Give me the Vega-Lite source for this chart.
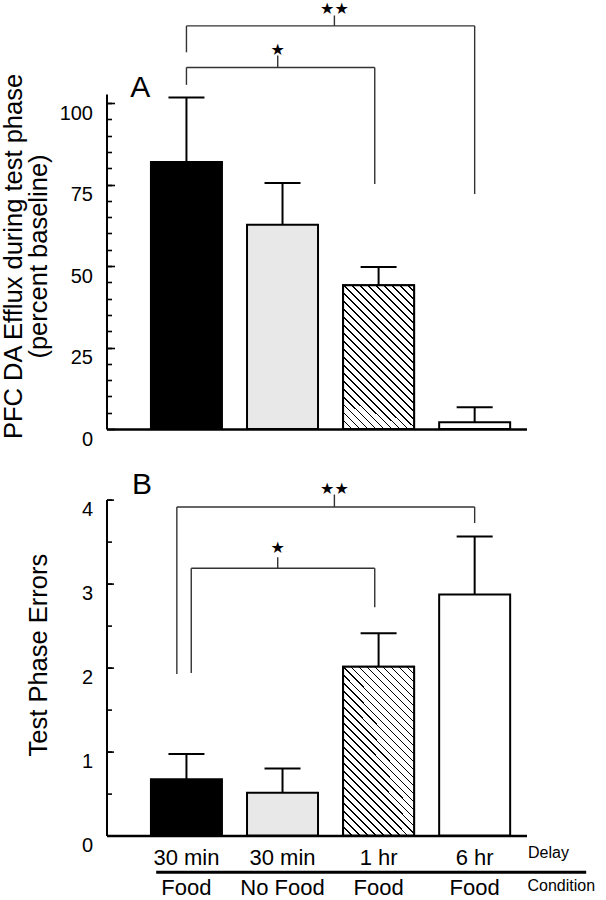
{
  "$schema": "https://vega.github.io/schema/vega-lite/v6.json",
  "padding": {"left": 0.5, "top": 0, "right": 0, "bottom": 0},
  "bounds": "flush",
  "spacing": 70.6,
  "config": {
    "view": {"stroke": null},
    "font": "Liberation Sans, Arial, Helvetica, sans-serif",
    "text": {"font": "Liberation Sans, Arial, Helvetica, sans-serif"},
    "axis": {"labelFont": "Liberation Sans, Arial, Helvetica, sans-serif", "titleFont": "Liberation Sans, Arial, Helvetica, sans-serif", "labelColor": "#000", "titleColor": "#000", "tickColor": "#000", "domainColor": "#000", "grid": false, "titleFontWeight": "normal"}
  },
  "datasets": {
    "efflux": [
      {"slot": 1, "delay": "30 min", "condition": "Food", "mean": 81.9, "upper": 101.7},
      {"slot": 2, "delay": "30 min", "condition": "No Food", "mean": 62.7, "upper": 75.5},
      {"slot": 3, "delay": "1 hr", "condition": "Food", "mean": 44.1, "upper": 49.7},
      {"slot": 4, "delay": "6 hr", "condition": "Food", "mean": 2.06, "upper": 6.66}
    ],
    "errors": [
      {"slot": 1, "delay": "30 min", "condition": "Food", "mean": 0.67, "upper": 0.97},
      {"slot": 2, "delay": "30 min", "condition": "No Food", "mean": 0.51, "upper": 0.80},
      {"slot": 3, "delay": "1 hr", "condition": "Food", "mean": 2.01, "upper": 2.41},
      {"slot": 4, "delay": "6 hr", "condition": "Food", "mean": 2.87, "upper": 3.56}
    ],
    "bracketsA": [
      {"xa": 1, "xb": 4, "ya": 123.7, "yb": 123.7},
      {"xa": 1, "xb": 1, "ya": 123.7, "yb": 115.6},
      {"xa": 4, "xb": 4, "ya": 123.7, "yb": 72.1},
      {"xa": 2.54, "xb": 2.54, "ya": 123.7, "yb": 126.9},
      {"xa": 1, "xb": 2.96, "ya": 110.95, "yb": 110.95},
      {"xa": 1, "xb": 1, "ya": 110.95, "yb": 105.6},
      {"xa": 2.96, "xb": 2.96, "ya": 110.95, "yb": 75.2},
      {"xa": 1.95, "xb": 1.95, "ya": 110.95, "yb": 114.6}
    ],
    "starsA": [
      {"xs": 2.54, "ys": 128.9, "sig": "★★"},
      {"xs": 1.95, "ys": 116.3, "sig": "★"}
    ],
    "bracketsB": [
      {"xa": 0.90, "xb": 4, "ya": 3.912, "yb": 3.912},
      {"xa": 0.90, "xb": 0.90, "ya": 3.912, "yb": 1.924},
      {"xa": 4, "xb": 4, "ya": 3.912, "yb": 3.721},
      {"xa": 2.54, "xb": 2.54, "ya": 3.912, "yb": 4.06},
      {"xa": 1.05, "xb": 2.96, "ya": 3.182, "yb": 3.182},
      {"xa": 1.05, "xb": 1.05, "ya": 3.182, "yb": 1.936},
      {"xa": 2.96, "xb": 2.96, "ya": 3.182, "yb": 2.718},
      {"xa": 1.95, "xb": 1.95, "ya": 3.182, "yb": 3.313}
    ],
    "starsB": [
      {"xs": 2.54, "ys": 4.122, "sig": "★★"},
      {"xs": 1.95, "ys": 3.424, "sig": "★"}
    ]
  },
  "vconcat": [
    {
      "width": 420,
      "height": 335,
      "resolve": {"axis": {"y": "independent"}},
      "layer": [
        {
          "layer": [
            {
              "data": {"name": "efflux"},
              "mark": {"type": "bar", "width": 71, "stroke": "#000", "strokeWidth": 2},
              "encoding": {
                "x": {"field": "slot", "type": "quantitative", "scale": {"domain": [0.2198, 4.4876], "nice": false, "zero": false},
                      "axis": {"domain": true, "domainWidth": 2.5, "ticks": false, "labels": false, "title": null}},
                "y": {"field": "mean", "type": "quantitative", "scale": {"domain": [0, 102.8], "nice": false},
                      "axis": {"orient": "left", "values": [0, 25, 50, 75, 100], "format": "d", "tickSize": -8, "tickWidth": 1.6, "domainWidth": 2,
                               "labelFontSize": 20, "labelPadding": 22, "labelBaseline": "top",
                               "title": ["PFC DA Efflux during test phase", "(percent baseline)"],
                               "titleFontSize": 25.5, "titleLineHeight": 25.2, "titleBaseline": "alphabetic", "titleAngle": -90,
                               "titleAlign": "center", "titleX": -85.5, "titleY": 162}},
                "fill": {"field": "slot", "type": "nominal", "scale": {"domain": [1, 2, 3, 4], "range": ["#000000", "#e8e8e8", "#ffffff", "#ffffff"]}, "legend": null}
              }
            },
            {
              "data": {"name": "efflux"},
              "transform": [{"filter": "datum.slot == 3"}],
              "mark": {"type": "bar", "width": 71, "stroke": "#000", "strokeWidth": 2,
                "fill": {"gradient": "linear", "x1": 0, "y1": 1, "x2": 0.66, "y2": -0.339, "stops": [
{"offset":0,"color":"#000"},{"offset":0.0067,"color":"#000"},{"offset":0.0067,"color":"#fff"},{"offset":0.0333,"color":"#fff"},
{"offset":0.0333,"color":"#000"},{"offset":0.04,"color":"#000"},{"offset":0.04,"color":"#fff"},{"offset":0.0667,"color":"#fff"},
{"offset":0.0667,"color":"#000"},{"offset":0.0733,"color":"#000"},{"offset":0.0733,"color":"#fff"},{"offset":0.1,"color":"#fff"},
{"offset":0.1,"color":"#000"},{"offset":0.1067,"color":"#000"},{"offset":0.1067,"color":"#fff"},{"offset":0.1333,"color":"#fff"},
{"offset":0.1333,"color":"#000"},{"offset":0.14,"color":"#000"},{"offset":0.14,"color":"#fff"},{"offset":0.1667,"color":"#fff"},
{"offset":0.1667,"color":"#000"},{"offset":0.1733,"color":"#000"},{"offset":0.1733,"color":"#fff"},{"offset":0.2,"color":"#fff"},
{"offset":0.2,"color":"#000"},{"offset":0.2067,"color":"#000"},{"offset":0.2067,"color":"#fff"},{"offset":0.2333,"color":"#fff"},
{"offset":0.2333,"color":"#000"},{"offset":0.24,"color":"#000"},{"offset":0.24,"color":"#fff"},{"offset":0.2667,"color":"#fff"},
{"offset":0.2667,"color":"#000"},{"offset":0.2733,"color":"#000"},{"offset":0.2733,"color":"#fff"},{"offset":0.3,"color":"#fff"},
{"offset":0.3,"color":"#000"},{"offset":0.3067,"color":"#000"},{"offset":0.3067,"color":"#fff"},{"offset":0.3333,"color":"#fff"},
{"offset":0.3333,"color":"#000"},{"offset":0.34,"color":"#000"},{"offset":0.34,"color":"#fff"},{"offset":0.3667,"color":"#fff"},
{"offset":0.3667,"color":"#000"},{"offset":0.3733,"color":"#000"},{"offset":0.3733,"color":"#fff"},{"offset":0.4,"color":"#fff"},
{"offset":0.4,"color":"#000"},{"offset":0.4067,"color":"#000"},{"offset":0.4067,"color":"#fff"},{"offset":0.4333,"color":"#fff"},
{"offset":0.4333,"color":"#000"},{"offset":0.44,"color":"#000"},{"offset":0.44,"color":"#fff"},{"offset":0.4667,"color":"#fff"},
{"offset":0.4667,"color":"#000"},{"offset":0.4733,"color":"#000"},{"offset":0.4733,"color":"#fff"},{"offset":0.5,"color":"#fff"},
{"offset":0.5,"color":"#000"},{"offset":0.5067,"color":"#000"},{"offset":0.5067,"color":"#fff"},{"offset":0.5333,"color":"#fff"},
{"offset":0.5333,"color":"#000"},{"offset":0.54,"color":"#000"},{"offset":0.54,"color":"#fff"},{"offset":0.5667,"color":"#fff"},
{"offset":0.5667,"color":"#000"},{"offset":0.5733,"color":"#000"},{"offset":0.5733,"color":"#fff"},{"offset":0.6,"color":"#fff"},
{"offset":0.6,"color":"#000"},{"offset":0.6067,"color":"#000"},{"offset":0.6067,"color":"#fff"},{"offset":0.6333,"color":"#fff"},
{"offset":0.6333,"color":"#000"},{"offset":0.64,"color":"#000"},{"offset":0.64,"color":"#fff"},{"offset":0.6667,"color":"#fff"},
{"offset":0.6667,"color":"#000"},{"offset":0.6733,"color":"#000"},{"offset":0.6733,"color":"#fff"},{"offset":0.7,"color":"#fff"},
{"offset":0.7,"color":"#000"},{"offset":0.7067,"color":"#000"},{"offset":0.7067,"color":"#fff"},{"offset":0.7333,"color":"#fff"},
{"offset":0.7333,"color":"#000"},{"offset":0.74,"color":"#000"},{"offset":0.74,"color":"#fff"},{"offset":0.7667,"color":"#fff"},
{"offset":0.7667,"color":"#000"},{"offset":0.7733,"color":"#000"},{"offset":0.7733,"color":"#fff"},{"offset":0.8,"color":"#fff"},
{"offset":0.8,"color":"#000"},{"offset":0.8067,"color":"#000"},{"offset":0.8067,"color":"#fff"},{"offset":0.8333,"color":"#fff"},
{"offset":0.8333,"color":"#000"},{"offset":0.84,"color":"#000"},{"offset":0.84,"color":"#fff"},{"offset":0.8667,"color":"#fff"},
{"offset":0.8667,"color":"#000"},{"offset":0.8733,"color":"#000"},{"offset":0.8733,"color":"#fff"},{"offset":0.9,"color":"#fff"},
{"offset":0.9,"color":"#000"},{"offset":0.9067,"color":"#000"},{"offset":0.9067,"color":"#fff"},{"offset":0.9333,"color":"#fff"},
{"offset":0.9333,"color":"#000"},{"offset":0.94,"color":"#000"},{"offset":0.94,"color":"#fff"},{"offset":0.9667,"color":"#fff"},
{"offset":0.9667,"color":"#000"},{"offset":0.9733,"color":"#000"},{"offset":0.9733,"color":"#fff"},{"offset":1,"color":"#fff"}
                ]}},
              "encoding": {
                "x": {"field": "slot", "type": "quantitative"},
                "y": {"field": "mean", "type": "quantitative"}
              }
            },
            {
              "data": {"name": "efflux"},
              "mark": {"type": "tick", "orient": "horizontal", "size": 36, "thickness": 2, "color": "#000", "opacity": 1},
              "encoding": {
                "x": {"field": "slot", "type": "quantitative"},
                "y": {"field": "upper", "type": "quantitative"}
              }
            },
            {
              "data": {"name": "bracketsA"},
              "mark": {"type": "rule", "color": "#333333", "strokeWidth": 1.4},
              "encoding": {
                "x": {"field": "xa", "type": "quantitative"},
                "x2": {"field": "xb"},
                "y": {"field": "ya", "type": "quantitative"},
                "y2": {"field": "yb"}
              }
            },
            {
              "data": {"name": "starsA"},
              "mark": {"type": "text", "font": "DejaVu Sans", "fontSize": 16, "align": "center", "baseline": "middle", "color": "#000"},
              "encoding": {
                "x": {"field": "xs", "type": "quantitative"},
                "y": {"field": "ys", "type": "quantitative"},
                "text": {"field": "sig"}
              }
            },
            {
              "data": {"values": [{}]},
              "mark": {"type": "text", "text": "A", "fontSize": 30, "align": "left", "baseline": "alphabetic", "color": "#000"},
              "encoding": {
                "x": {"datum": 0.416},
                "y": {"datum": 102}
              }
            }
          ]
        },
        {
          "data": {"name": "efflux"},
          "mark": {"type": "rule", "strokeWidth": 2, "color": "#000"},
          "encoding": {
            "x": {"field": "slot", "type": "quantitative"},
            "y": {"field": "mean", "type": "quantitative",
                  "axis": {"orient": "left", "values": [5, 10, 15, 20, 25, 30, 35, 40, 45, 50, 55, 60, 65, 70, 75, 80, 85, 90, 95, 100], "tickSize": -5, "tickWidth": 1.6, "labels": false, "domain": false, "title": null}},
            "y2": {"field": "upper"}
          }
        }
      ]
    },
    {
      "width": 420,
      "height": 336,
      "resolve": {"axis": {"y": "independent"}},
      "layer": [
        {
          "layer": [
            {
              "data": {"name": "errors"},
              "mark": {"type": "bar", "width": 71, "stroke": "#000", "strokeWidth": 2},
              "encoding": {
                "x": {"field": "slot", "type": "quantitative", "scale": {"domain": [0.2198, 4.4876], "nice": false, "zero": false},
                      "axis": {"domain": true, "domainWidth": 2.5, "ticks": false, "labels": false, "title": null}},
                "y": {"field": "mean", "type": "quantitative", "scale": {"domain": [0, 4], "nice": false},
                      "axis": {"orient": "left", "values": [0, 1, 2, 3, 4], "format": "d", "tickSize": -7, "tickWidth": 1.6, "domainWidth": 2,
                               "labelFontSize": 20, "labelPadding": 21, "labelBaseline": "top",
                               "title": "Test Phase Errors",
                               "titleFontSize": 25.5, "titleBaseline": "alphabetic", "titleAngle": -90,
                               "titleAlign": "center", "titleX": -60, "titleY": 155}},
                "fill": {"field": "slot", "type": "nominal", "scale": {"domain": [1, 2, 3, 4], "range": ["#000000", "#e8e8e8", "#ffffff", "#ffffff"]}, "legend": null}
              }
            },
            {
              "data": {"name": "errors"},
              "transform": [{"filter": "datum.slot == 3"}],
              "mark": {"type": "bar", "width": 71, "stroke": "#000", "strokeWidth": 2,
                "fill": {"gradient": "linear", "x1": 0, "y1": 1, "x2": 0.508, "y2": -0.207, "stops": [
{"offset":0,"color":"#000"},{"offset":0.0067,"color":"#000"},{"offset":0.0067,"color":"#fff"},{"offset":0.0333,"color":"#fff"},
{"offset":0.0333,"color":"#000"},{"offset":0.04,"color":"#000"},{"offset":0.04,"color":"#fff"},{"offset":0.0667,"color":"#fff"},
{"offset":0.0667,"color":"#000"},{"offset":0.0733,"color":"#000"},{"offset":0.0733,"color":"#fff"},{"offset":0.1,"color":"#fff"},
{"offset":0.1,"color":"#000"},{"offset":0.1067,"color":"#000"},{"offset":0.1067,"color":"#fff"},{"offset":0.1333,"color":"#fff"},
{"offset":0.1333,"color":"#000"},{"offset":0.14,"color":"#000"},{"offset":0.14,"color":"#fff"},{"offset":0.1667,"color":"#fff"},
{"offset":0.1667,"color":"#000"},{"offset":0.1733,"color":"#000"},{"offset":0.1733,"color":"#fff"},{"offset":0.2,"color":"#fff"},
{"offset":0.2,"color":"#000"},{"offset":0.2067,"color":"#000"},{"offset":0.2067,"color":"#fff"},{"offset":0.2333,"color":"#fff"},
{"offset":0.2333,"color":"#000"},{"offset":0.24,"color":"#000"},{"offset":0.24,"color":"#fff"},{"offset":0.2667,"color":"#fff"},
{"offset":0.2667,"color":"#000"},{"offset":0.2733,"color":"#000"},{"offset":0.2733,"color":"#fff"},{"offset":0.3,"color":"#fff"},
{"offset":0.3,"color":"#000"},{"offset":0.3067,"color":"#000"},{"offset":0.3067,"color":"#fff"},{"offset":0.3333,"color":"#fff"},
{"offset":0.3333,"color":"#000"},{"offset":0.34,"color":"#000"},{"offset":0.34,"color":"#fff"},{"offset":0.3667,"color":"#fff"},
{"offset":0.3667,"color":"#000"},{"offset":0.3733,"color":"#000"},{"offset":0.3733,"color":"#fff"},{"offset":0.4,"color":"#fff"},
{"offset":0.4,"color":"#000"},{"offset":0.4067,"color":"#000"},{"offset":0.4067,"color":"#fff"},{"offset":0.4333,"color":"#fff"},
{"offset":0.4333,"color":"#000"},{"offset":0.44,"color":"#000"},{"offset":0.44,"color":"#fff"},{"offset":0.4667,"color":"#fff"},
{"offset":0.4667,"color":"#000"},{"offset":0.4733,"color":"#000"},{"offset":0.4733,"color":"#fff"},{"offset":0.5,"color":"#fff"},
{"offset":0.5,"color":"#000"},{"offset":0.5067,"color":"#000"},{"offset":0.5067,"color":"#fff"},{"offset":0.5333,"color":"#fff"},
{"offset":0.5333,"color":"#000"},{"offset":0.54,"color":"#000"},{"offset":0.54,"color":"#fff"},{"offset":0.5667,"color":"#fff"},
{"offset":0.5667,"color":"#000"},{"offset":0.5733,"color":"#000"},{"offset":0.5733,"color":"#fff"},{"offset":0.6,"color":"#fff"},
{"offset":0.6,"color":"#000"},{"offset":0.6067,"color":"#000"},{"offset":0.6067,"color":"#fff"},{"offset":0.6333,"color":"#fff"},
{"offset":0.6333,"color":"#000"},{"offset":0.64,"color":"#000"},{"offset":0.64,"color":"#fff"},{"offset":0.6667,"color":"#fff"},
{"offset":0.6667,"color":"#000"},{"offset":0.6733,"color":"#000"},{"offset":0.6733,"color":"#fff"},{"offset":0.7,"color":"#fff"},
{"offset":0.7,"color":"#000"},{"offset":0.7067,"color":"#000"},{"offset":0.7067,"color":"#fff"},{"offset":0.7333,"color":"#fff"},
{"offset":0.7333,"color":"#000"},{"offset":0.74,"color":"#000"},{"offset":0.74,"color":"#fff"},{"offset":0.7667,"color":"#fff"},
{"offset":0.7667,"color":"#000"},{"offset":0.7733,"color":"#000"},{"offset":0.7733,"color":"#fff"},{"offset":0.8,"color":"#fff"},
{"offset":0.8,"color":"#000"},{"offset":0.8067,"color":"#000"},{"offset":0.8067,"color":"#fff"},{"offset":0.8333,"color":"#fff"},
{"offset":0.8333,"color":"#000"},{"offset":0.84,"color":"#000"},{"offset":0.84,"color":"#fff"},{"offset":0.8667,"color":"#fff"},
{"offset":0.8667,"color":"#000"},{"offset":0.8733,"color":"#000"},{"offset":0.8733,"color":"#fff"},{"offset":0.9,"color":"#fff"},
{"offset":0.9,"color":"#000"},{"offset":0.9067,"color":"#000"},{"offset":0.9067,"color":"#fff"},{"offset":0.9333,"color":"#fff"},
{"offset":0.9333,"color":"#000"},{"offset":0.94,"color":"#000"},{"offset":0.94,"color":"#fff"},{"offset":0.9667,"color":"#fff"},
{"offset":0.9667,"color":"#000"},{"offset":0.9733,"color":"#000"},{"offset":0.9733,"color":"#fff"},{"offset":1,"color":"#fff"}
                ]}},
              "encoding": {
                "x": {"field": "slot", "type": "quantitative"},
                "y": {"field": "mean", "type": "quantitative"}
              }
            },
            {
              "data": {"name": "errors"},
              "mark": {"type": "tick", "orient": "horizontal", "size": 36, "thickness": 2, "color": "#000", "opacity": 1},
              "encoding": {
                "x": {"field": "slot", "type": "quantitative"},
                "y": {"field": "upper", "type": "quantitative"}
              }
            },
            {
              "data": {"name": "bracketsB"},
              "mark": {"type": "rule", "color": "#333333", "strokeWidth": 1.4},
              "encoding": {
                "x": {"field": "xa", "type": "quantitative"},
                "x2": {"field": "xb"},
                "y": {"field": "ya", "type": "quantitative"},
                "y2": {"field": "yb"}
              }
            },
            {
              "data": {"name": "starsB"},
              "mark": {"type": "text", "font": "DejaVu Sans", "fontSize": 16, "align": "center", "baseline": "middle", "color": "#000"},
              "encoding": {
                "x": {"field": "xs", "type": "quantitative"},
                "y": {"field": "ys", "type": "quantitative"},
                "text": {"field": "sig"}
              }
            },
            {
              "data": {"values": [{}]},
              "mark": {"type": "text", "text": "B", "fontSize": 30, "align": "left", "baseline": "alphabetic", "color": "#000"},
              "encoding": {
                "x": {"datum": 0.433},
                "y": {"datum": 4.07}
              }
            },
            {
              "data": {"name": "errors"},
              "mark": {"type": "text", "fontSize": 22, "align": "center", "baseline": "alphabetic", "color": "#000"},
              "encoding": {
                "x": {"field": "slot", "type": "quantitative"},
                "y": {"datum": -0.345},
                "text": {"field": "delay"}
              }
            },
            {
              "data": {"name": "errors"},
              "mark": {"type": "text", "fontSize": 22, "align": "center", "baseline": "alphabetic", "color": "#000"},
              "encoding": {
                "x": {"field": "slot", "type": "quantitative"},
                "y": {"datum": -0.711},
                "text": {"field": "condition"}
              }
            },
            {
              "data": {"values": [{}]},
              "mark": {"type": "rule", "strokeWidth": 3, "color": "#000"},
              "encoding": {
                "x": {"datum": 0.685},
                "x2": {"datum": 5.161},
                "y": {"datum": -0.437}
              }
            },
            {
              "data": {"values": [{}]},
              "mark": {"type": "text", "text": "Delay", "fontSize": 16, "align": "left", "baseline": "alphabetic", "color": "#000"},
              "encoding": {
                "x": {"datum": 4.555},
                "y": {"datum": -0.267}
              }
            },
            {
              "data": {"values": [{}]},
              "mark": {"type": "text", "text": "Condition", "fontSize": 16, "align": "left", "baseline": "alphabetic", "color": "#000"},
              "encoding": {
                "x": {"datum": 4.55},
                "y": {"datum": -0.662}
              }
            }
          ]
        },
        {
          "data": {"name": "errors"},
          "mark": {"type": "rule", "strokeWidth": 2, "color": "#000"},
          "encoding": {
            "x": {"field": "slot", "type": "quantitative"},
            "y": {"field": "mean", "type": "quantitative",
                  "axis": {"orient": "left", "values": [0.5, 1, 1.5, 2, 2.5, 3, 3.5, 4], "tickSize": -5, "tickWidth": 1.6, "labels": false, "domain": false, "title": null}},
            "y2": {"field": "upper"}
          }
        }
      ]
    }
  ]
}
